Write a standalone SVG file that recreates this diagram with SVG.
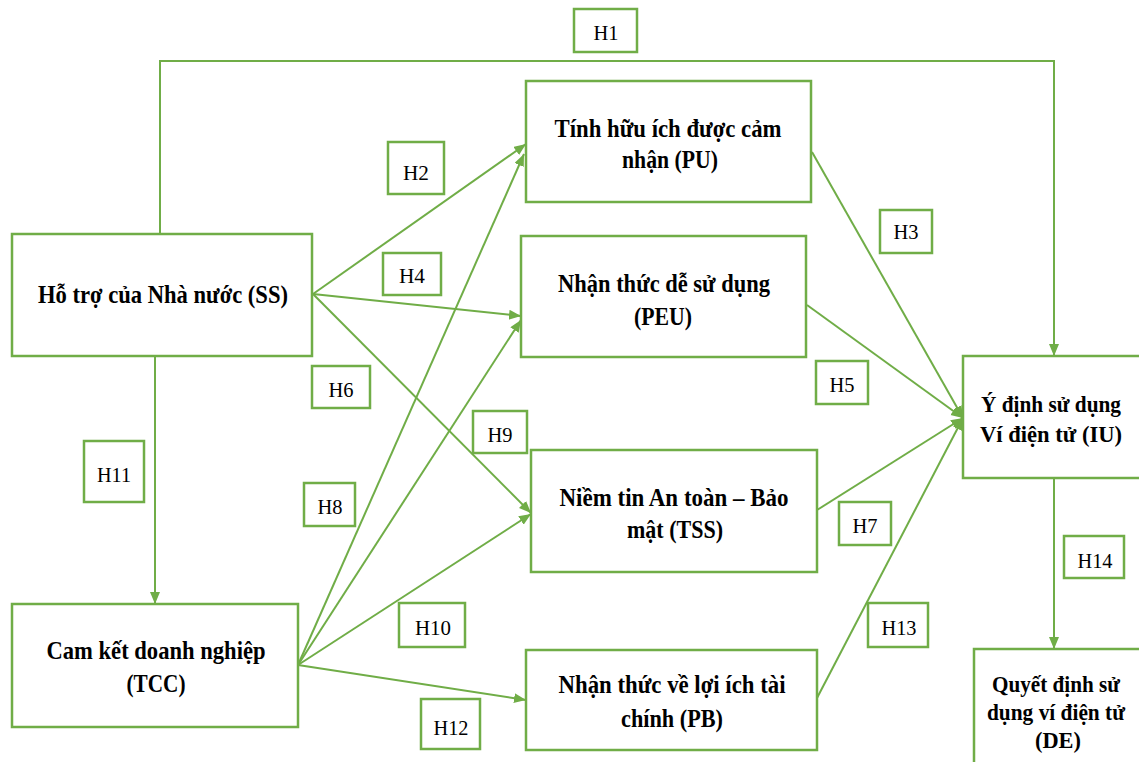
<svg xmlns="http://www.w3.org/2000/svg" width="1139" height="762" viewBox="0 0 1139 762">
  <style>
    .box { fill: #ffffff; stroke: #70AD47; stroke-width: 2.5; }
    .lbl { fill: #ffffff; stroke: #70AD47; stroke-width: 2.5; }
    .node-text { font-family: "Liberation Serif", "Times New Roman", serif; font-weight: bold; font-size: 25px; fill: #000000; text-anchor: middle; }
    .edge-node .node-text { font-size: 23px; }
    .lbl-text { font-family: "Liberation Serif", "Times New Roman", serif; font-size: 22px; fill: #000000; text-anchor: middle; }
    .edge { fill: none; stroke: #70AD47; stroke-width: 2; }
  </style>
  <defs>
    <marker id="arrow" markerUnits="userSpaceOnUse" markerWidth="14" markerHeight="12" refX="12" refY="5" orient="auto">
      <path d="M0,0 L12,5 L0,10 Z" fill="#70AD47"/>
    </marker>
  </defs>
  <rect width="1139" height="762" fill="#ffffff"/>

  <!-- connectors -->
  <g id="connectors">
    <polyline class="edge" points="160,234 160,61 1054,61 1054,356" marker-end="url(#arrow)"/>
    <line class="edge" x1="313" y1="294" x2="526" y2="144" marker-end="url(#arrow)"/>
    <line class="edge" x1="313" y1="294" x2="521" y2="316" marker-end="url(#arrow)"/>
    <line class="edge" x1="313" y1="294" x2="531" y2="513" marker-end="url(#arrow)"/>
    <line class="edge" x1="155" y1="356" x2="155" y2="604" marker-end="url(#arrow)"/>
    <line class="edge" x1="298" y1="665" x2="524" y2="154" marker-end="url(#arrow)"/>
    <line class="edge" x1="298" y1="665" x2="521" y2="320" marker-end="url(#arrow)"/>
    <line class="edge" x1="298" y1="665" x2="531" y2="514" marker-end="url(#arrow)"/>
    <line class="edge" x1="298" y1="665" x2="526" y2="700" marker-end="url(#arrow)"/>
    <line class="edge" x1="812" y1="152" x2="963" y2="418" marker-end="url(#arrow)"/>
    <line class="edge" x1="807" y1="305" x2="963" y2="418" marker-end="url(#arrow)"/>
    <line class="edge" x1="817" y1="510" x2="963" y2="418" marker-end="url(#arrow)"/>
    <line class="edge" x1="817" y1="698" x2="963" y2="418" marker-end="url(#arrow)"/>
    <line class="edge" x1="1054" y1="478" x2="1054" y2="649" marker-end="url(#arrow)"/>
  </g>

  <!-- nodes -->
  <g id="node-ss">
    <rect class="box" x="12" y="234" width="300" height="122"/>
    <text class="node-text" x="163" y="303" textLength="250" lengthAdjust="spacingAndGlyphs">Hỗ trợ của Nhà nước (SS)</text>
  </g>
  <g id="node-pu">
    <rect class="box" x="526" y="81" width="285" height="121"/>
    <text class="node-text" x="668" y="137" textLength="227" lengthAdjust="spacingAndGlyphs">Tính hữu ích được cảm</text>
    <text class="node-text" x="670" y="168" textLength="96" lengthAdjust="spacingAndGlyphs">nhận (PU)</text>
  </g>
  <g id="node-peu">
    <rect class="box" x="521" y="236" width="285" height="121"/>
    <text class="node-text" x="664" y="292" textLength="212" lengthAdjust="spacingAndGlyphs">Nhận thức dễ sử dụng</text>
    <text class="node-text" x="663" y="325" textLength="58" lengthAdjust="spacingAndGlyphs">(PEU)</text>
  </g>
  <g id="node-tss">
    <rect class="box" x="531" y="450" width="286" height="122"/>
    <text class="node-text" x="674" y="506" textLength="229" lengthAdjust="spacingAndGlyphs">Niềm tin An toàn – Bảo</text>
    <text class="node-text" x="675" y="538" textLength="96" lengthAdjust="spacingAndGlyphs">mật (TSS)</text>
  </g>
  <g id="node-pb">
    <rect class="box" x="526" y="650" width="291" height="100"/>
    <text class="node-text" x="672" y="693" textLength="227" lengthAdjust="spacingAndGlyphs">Nhận thức về lợi ích tài</text>
    <text class="node-text" x="672" y="727" textLength="102" lengthAdjust="spacingAndGlyphs">chính (PB)</text>
  </g>
  <g id="node-tcc">
    <rect class="box" x="12" y="604" width="286" height="123"/>
    <text class="node-text" x="156" y="659" textLength="219" lengthAdjust="spacingAndGlyphs">Cam kết doanh nghiệp</text>
    <text class="node-text" x="156" y="692" textLength="59" lengthAdjust="spacingAndGlyphs">(TCC)</text>
  </g>
  <g id="node-iu" class="edge-node">
    <rect class="box" x="963" y="356" width="190" height="122"/>
    <text class="node-text" x="1051" y="412" textLength="140" lengthAdjust="spacingAndGlyphs">Ý định sử dụng</text>
    <text class="node-text" x="1051" y="442" textLength="142" lengthAdjust="spacingAndGlyphs">Ví điện tử (IU)</text>
  </g>
  <g id="node-de" class="edge-node">
    <rect class="box" x="974" y="649" width="180" height="130"/>
    <text class="node-text" x="1056" y="692" textLength="128" lengthAdjust="spacingAndGlyphs">Quyết định sử</text>
    <text class="node-text" x="1056" y="720" textLength="138" lengthAdjust="spacingAndGlyphs">dụng ví điện tử</text>
    <text class="node-text" x="1058" y="748" textLength="46" lengthAdjust="spacingAndGlyphs">(DE)</text>
  </g>

  <!-- hypothesis labels -->
  <g id="label-h1"><rect class="lbl" x="574" y="9" width="63" height="43"/><text class="lbl-text" x="606" y="40" textLength="25" lengthAdjust="spacingAndGlyphs">H1</text></g>
  <g id="label-h2"><rect class="lbl" x="388" y="142" width="56" height="52"/><text class="lbl-text" x="416" y="180" textLength="26" lengthAdjust="spacingAndGlyphs">H2</text></g>
  <g id="label-h3"><rect class="lbl" x="880" y="210" width="52" height="43"/><text class="lbl-text" x="906" y="239" textLength="25" lengthAdjust="spacingAndGlyphs">H3</text></g>
  <g id="label-h4"><rect class="lbl" x="383" y="253" width="58" height="42"/><text class="lbl-text" x="412" y="283" textLength="26" lengthAdjust="spacingAndGlyphs">H4</text></g>
  <g id="label-h5"><rect class="lbl" x="816" y="361" width="52" height="43"/><text class="lbl-text" x="842" y="392" textLength="25" lengthAdjust="spacingAndGlyphs">H5</text></g>
  <g id="label-h6"><rect class="lbl" x="312" y="366" width="58" height="42"/><text class="lbl-text" x="341" y="397" textLength="25" lengthAdjust="spacingAndGlyphs">H6</text></g>
  <g id="label-h7"><rect class="lbl" x="839" y="502" width="52" height="43"/><text class="lbl-text" x="865" y="533" textLength="25" lengthAdjust="spacingAndGlyphs">H7</text></g>
  <g id="label-h8"><rect class="lbl" x="304" y="483" width="51" height="43"/><text class="lbl-text" x="330" y="514" textLength="25" lengthAdjust="spacingAndGlyphs">H8</text></g>
  <g id="label-h9"><rect class="lbl" x="473" y="411" width="54" height="42"/><text class="lbl-text" x="500" y="442" textLength="25" lengthAdjust="spacingAndGlyphs">H9</text></g>
  <g id="label-h10"><rect class="lbl" x="399" y="603" width="66" height="44"/><text class="lbl-text" x="433" y="635" textLength="36" lengthAdjust="spacingAndGlyphs">H10</text></g>
  <g id="label-h11"><rect class="lbl" x="84" y="441" width="60" height="61"/><text class="lbl-text" x="114" y="482" textLength="34" lengthAdjust="spacingAndGlyphs">H11</text></g>
  <g id="label-h12"><rect class="lbl" x="421" y="699" width="59" height="50"/><text class="lbl-text" x="451" y="735" textLength="35" lengthAdjust="spacingAndGlyphs">H12</text></g>
  <g id="label-h13"><rect class="lbl" x="868" y="603" width="60" height="44"/><text class="lbl-text" x="899" y="635" textLength="35" lengthAdjust="spacingAndGlyphs">H13</text></g>
  <g id="label-h14"><rect class="lbl" x="1064" y="536" width="60" height="42"/><text class="lbl-text" x="1095" y="568" textLength="35" lengthAdjust="spacingAndGlyphs">H14</text></g>
</svg>
